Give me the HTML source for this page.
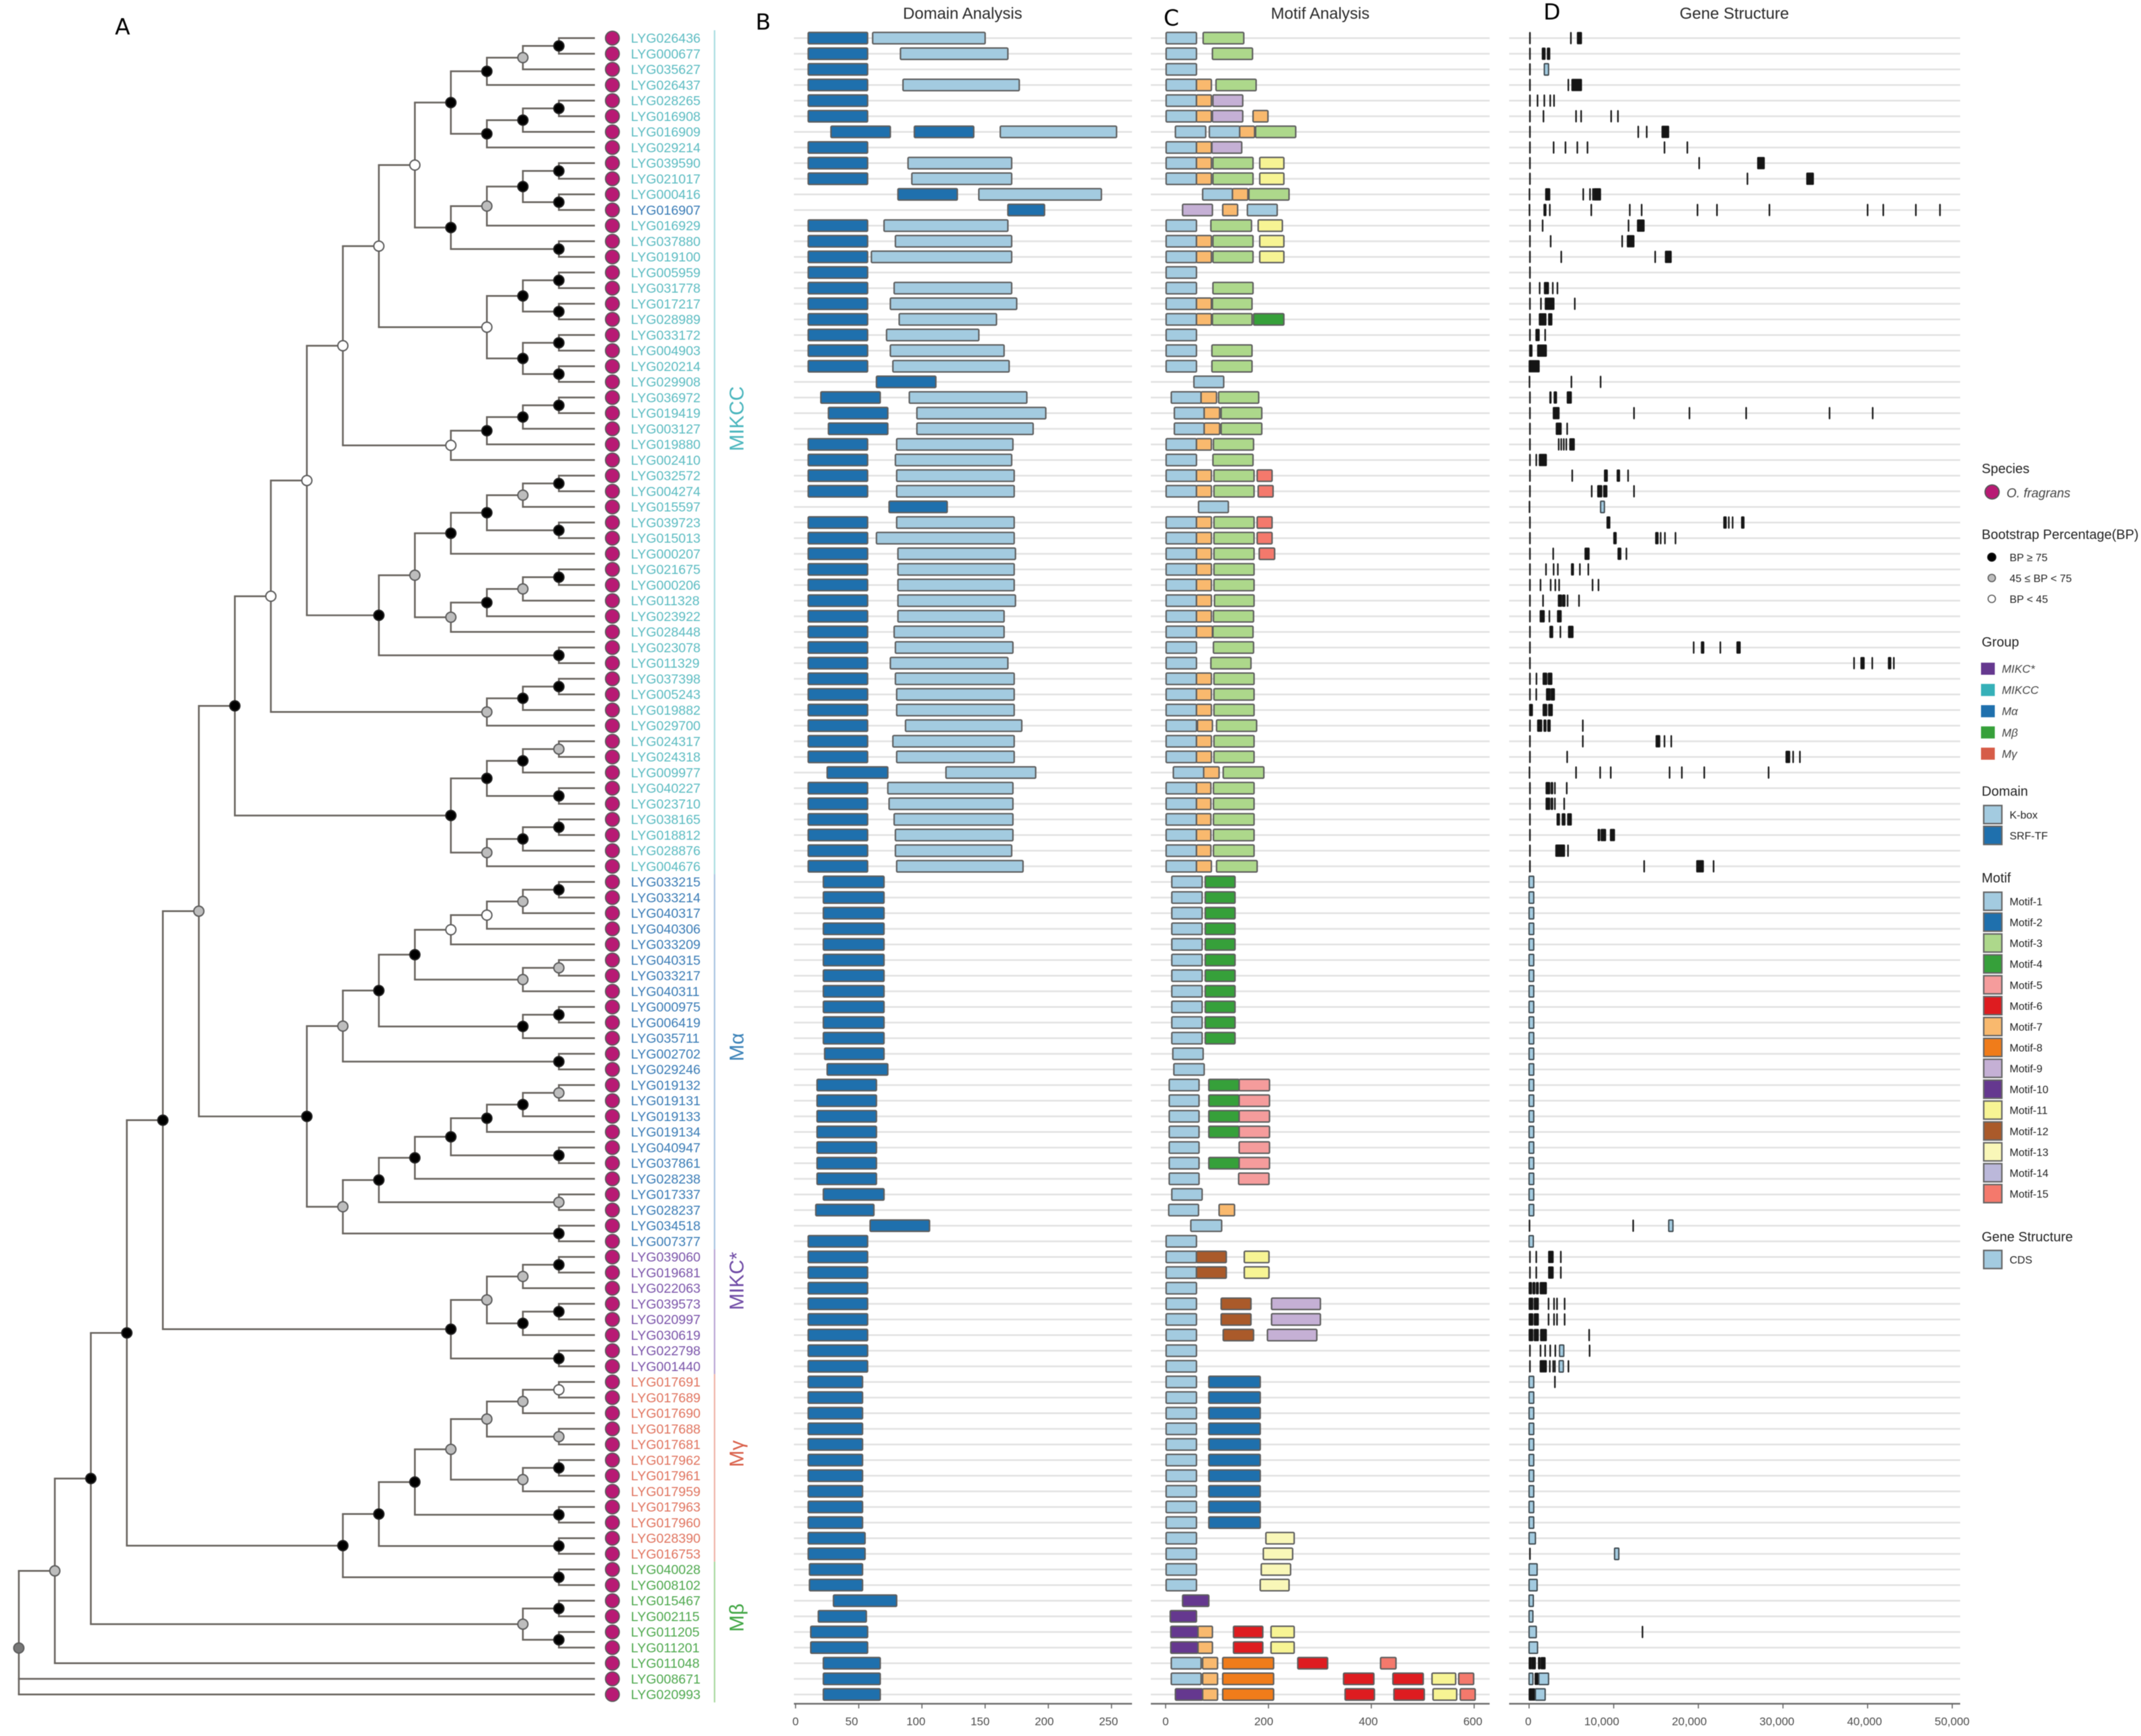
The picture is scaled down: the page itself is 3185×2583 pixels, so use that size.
<!DOCTYPE html>
<html lang="en">
<head>
<meta charset="utf-8">
<title>MADS-box gene family phylogeny, domains, motifs and gene structure</title>
<style>
html,body{margin:0;padding:0;background:#fff;}
svg{display:block;filter:blur(.6px);font-family:"Liberation Sans",sans-serif;}
.ttl{font-size:24px;fill:#2a2a2a;text-anchor:middle;}
.pl{font-family:"DejaVu Sans",sans-serif;font-size:33px;fill:#000;}
.lt{font-size:20px;fill:#222;}
</style>
</head>
<body>
<svg id="fig" xmlns="http://www.w3.org/2000/svg" width="3185" height="2583" viewBox="0 0 3185 2583">
  <rect width="3185" height="2583" fill="#fff"/>
  <text class="pl" x="171" y="51">A</text>
  <text class="pl" x="1124" y="44">B</text>
  <text class="pl" x="1731" y="38">C</text>
  <text class="pl" x="2296" y="29">D</text>
  <text class="ttl" x="1432" y="28">Domain Analysis</text>
  <text class="ttl" x="1964" y="28">Motif Analysis</text>
  <text class="ttl" x="2580" y="28">Gene Structure</text>
  <g id="rows"></g>
  <g id="tree"></g>
  <g id="tips"></g>
  <g id="groups"></g>
  <g id="domains"></g>
  <g id="motifs"></g>
  <g id="genes"></g>
  <g id="axes"></g>
  <g id="legend">
    <text class="lt" x="2948" y="704">Species</text>
    <text class="lt" x="2948" y="802">Bootstrap Percentage(BP)</text>
    <text class="lt" x="2948" y="962">Group</text>
    <text class="lt" x="2948" y="1184">Domain</text>
    <text class="lt" x="2948" y="1313">Motif</text>
    <text class="lt" x="2948" y="1847">Gene Structure</text>
  </g>
</svg>
<script>
// ---------- data ----------
const geneIds = ["LYG026436","LYG000677","LYG035627","LYG026437","LYG028265","LYG016908","LYG016909","LYG029214","LYG039590","LYG021017","LYG000416","LYG016907","LYG016929","LYG037880","LYG019100","LYG005959","LYG031778","LYG017217","LYG028989","LYG033172","LYG004903","LYG020214","LYG029908","LYG036972","LYG019419","LYG003127","LYG019880","LYG002410","LYG032572","LYG004274","LYG015597","LYG039723","LYG015013","LYG000207","LYG021675","LYG000206","LYG011328","LYG023922","LYG028448","LYG023078","LYG011329","LYG037398","LYG005243","LYG019882","LYG029700","LYG024317","LYG024318","LYG009977","LYG040227","LYG023710","LYG038165","LYG018812","LYG028876","LYG004676",
"LYG033215","LYG033214","LYG040317","LYG040306","LYG033209","LYG040315","LYG033217","LYG040311","LYG000975","LYG006419","LYG035711","LYG002702","LYG029246","LYG019132","LYG019131","LYG019133","LYG019134","LYG040947","LYG037861","LYG028238","LYG017337","LYG028237","LYG034518","LYG007377",
"LYG039060","LYG019681","LYG022063","LYG039573","LYG020997","LYG030619","LYG022798","LYG001440",
"LYG017691","LYG017689","LYG017690","LYG017688","LYG017681","LYG017962","LYG017961","LYG017959","LYG017963","LYG017960","LYG028390","LYG016753",
"LYG040028","LYG008102","LYG015467","LYG002115","LYG011205","LYG011201","LYG011048","LYG008671","LYG020993"];
const groupNames = ["MIKCC","M\u03b1","MIKC*","M\u03b3","M\u03b2"];
const groupCounts = [54,24,8,12,9];
// Topology: "." is the next tip in row order; the letter after ")" is bootstrap class (b >=75, g 45-75, w <45, d root)
const cladeA = "((((.,.)b,.)g,.)b,(((.,.)b,.)b,.)b)b";
const cladeB = "((((.,.)b,(.,.)b)b,.)g,(.,.)b)b";
const cladeC = "(((.,.)b,(.,.)b)b,((.,.)b,(.,.)b)b)w";
const cladeD = "((((.,.)b,.)b,.)b,.)w";
const cladeE1 = "(((.,.)b,.)g,(.,.)b)b";
const cladeE2 = "((((.,.)b,.)g,.)b,.)g";
const cladeE = `(((${cladeE1},.)b,${cladeE2})g,(.,.)b)b`;
const cladeF = "(((.,.)b,.)b,.)g";
const cladeH = "((((.,.)g,.)b,(.,.)b)b,(((.,.)b,.)b,.)g)b";
const cladeMIKCC = `((((((${cladeA},${cladeB})w,${cladeC})w,${cladeD})w,${cladeE})w,${cladeF})w,${cladeH})b`;
const cladeM1 = "((((.,.)b,.)g,.)w,.)w";
const cladeM2 = "((.,.)g,.)g";
const cladeM4 = "((.,.)b,.)b";
const cladeM6 = `(((${cladeM1},${cladeM2})b,${cladeM4})b,(.,.)b)g`;
const cladeN1 = "(((.,.)g,.)b,.)b";
const cladeN5 = `((((${cladeN1},(.,.)b)b,.)b,(.,.)g)b,(.,.)b)g`;
const cladeAlpha = `(${cladeM6},${cladeN5})b`;
const cladeStar = "((((.,.)b,.)g,((.,.)b,.)b)g,(.,.)b)b";
const cladeG1 = "((.,.)w,.)g";
const cladeG2 = `(${cladeG1},(.,.)g)g`;
const cladeG3 = "((.,.)b,.)g";
const cladeG4 = `(${cladeG2},${cladeG3})g`;
const cladeGamma = `(((${cladeG4},(.,.)b)b,(.,.)b)b,(.,.)b)b`;
const cladeBeta = "((.,.)b,(.,.)b)g";
const treeNewick = `((((((${cladeMIKCC},${cladeAlpha})g,${cladeStar})b,${cladeGamma})b,${cladeBeta})b,.)g,.,.)d`;
const domainNames = ["SRF-TF","K-box"];
// flat triples per row: domain type, start aa, end aa
const domainSpans = [
[0,10,57,1,61,150],[0,10,57,1,83,168],[0,10,57],[0,10,57,1,85,177],[0,10,57],[0,10,57],[0,28,75,0,94,141,1,162,254],[0,10,57],[0,10,57,1,89,171],[0,10,57,1,92,171],
[0,81,128,1,145,242],[0,168,197],[0,10,57,1,70,168],[0,10,57,1,79,171],[0,10,57,1,60,171],[0,10,57],[0,10,57,1,78,171],[0,10,57,1,75,175],[0,10,57,1,82,159],[0,10,57,1,72,145],
[0,10,57,1,75,165],[0,10,57,1,77,169],[0,64,111],[0,20,67,1,90,183],[0,26,73,1,96,198],[0,26,73,1,96,188],[0,10,57,1,80,172],[0,10,57,1,79,171],[0,10,57,1,80,173],[0,10,57,1,80,173],
[0,74,120],[0,10,57,1,80,173],[0,10,57,1,64,173],[0,10,57,1,81,174],[0,10,57,1,81,173],[0,10,57,1,81,173],[0,10,57,1,81,174],[0,10,57,1,81,165],[0,10,57,1,78,165],[0,10,57,1,79,172],
[0,10,57,1,75,168],[0,10,57,1,79,173],[0,10,57,1,80,173],[0,10,57,1,80,173],[0,10,57,1,87,179],[0,10,57,1,77,173],[0,10,57,1,80,173],[0,25,73,1,119,190],[0,10,57,1,73,172],[0,10,57,1,74,172],
[0,10,57,1,78,172],[0,10,57,1,79,172],[0,10,57,1,79,171],[0,10,57,1,80,180],
[0,22,70],[0,22,70],[0,22,70],[0,22,70],[0,22,70],[0,22,70],[0,22,70],[0,22,70],[0,22,70],[0,22,70],[0,22,70],[0,23,70],[0,25,73],
[0,17,64],[0,17,64],[0,17,64],[0,17,64],[0,17,64],[0,17,64],[0,17,64],[0,22,70],[0,16,62],[0,59,106],[0,10,57],
[0,10,57],[0,10,57],[0,10,57],[0,10,57],[0,10,57],[0,10,57],[0,10,57],[0,10,57],
[0,10,53],[0,10,53],[0,10,53],[0,10,53],[0,10,53],[0,10,53],[0,10,53],[0,10,53],[0,10,53],[0,10,53],[0,10,55],[0,10,55],
[0,11,53],[0,11,53],[0,30,80],[0,18,56],[0,12,57],[0,12,57],[0,22,67],[0,22,67],[0,22,67]];
// flat triples per row: motif number, start aa, end aa
const motifSpans = [
[1,1,60,3,73,152],[1,1,60,3,91,169],[1,1,60],[1,1,60,7,60,89,3,98,176],[1,1,60,7,60,89,9,92,150],[1,1,60,7,60,89,9,91,150,7,170,199],[1,19,78,1,85,144,7,144,173,3,175,253],[1,1,60,7,60,89,9,90,148],[1,1,60,7,60,89,3,92,170,11,183,230],[1,1,60,7,60,89,3,92,170,11,183,230],
[1,72,130,7,130,160,3,162,240],[9,33,91,7,111,140,1,159,217],[1,1,60,3,88,167,11,180,227],[1,1,60,7,60,89,3,92,170,11,183,230],[1,1,60,7,60,89,3,92,170,11,183,230],[1,1,60],[1,1,60,3,92,170],[1,1,60,7,60,89,3,91,168],[1,1,60,7,60,89,3,91,168,4,171,230],[1,1,60],
[1,1,60,3,90,168],[1,1,60,3,90,168],[1,55,113],[1,11,69,7,69,99,3,103,181],[1,17,75,7,75,105,3,108,187],[1,17,75,7,75,105,3,108,187],[1,1,60,7,60,89,3,93,171],[1,1,60,3,92,170],[1,1,60,7,60,89,3,94,172,15,178,207],[1,1,60,7,60,89,3,94,172,15,180,209],
[1,64,122],[1,1,60,7,60,89,3,94,172,15,178,207],[1,1,60,7,60,89,3,94,172,15,178,207],[1,1,60,7,60,89,3,94,172,15,182,212],[1,1,60,7,60,89,3,94,172],[1,1,60,7,60,89,3,94,172],[1,1,60,7,60,89,3,95,172],[1,1,60,7,60,89,3,93,171],[1,1,60,7,60,91,3,92,170],[1,1,60,3,93,171],
[1,1,60,3,88,166],[1,1,60,7,60,89,3,94,172],[1,1,60,7,60,89,3,94,172],[1,1,60,7,60,89,3,94,172],[1,1,60,7,62,91,3,99,177],[1,1,60,7,60,89,3,94,172],[1,1,60,7,60,89,3,94,172],[1,15,74,7,74,104,3,112,191],[1,1,60,7,60,88,3,93,172],[1,1,60,7,60,88,3,93,172],
[1,1,60,7,60,88,3,93,172],[1,1,60,7,60,88,3,93,172],[1,1,60,7,60,88,3,93,172],[1,1,60,7,60,89,3,99,178],
[1,12,71,4,77,135],[1,12,71,4,77,135],[1,12,71,4,77,135],[1,12,71,4,77,135],[1,12,71,4,77,135],[1,12,71,4,77,135],[1,12,71,4,77,135],[1,12,71,4,77,135],[1,12,71,4,77,135],[1,12,71,4,77,135],[1,12,71,4,77,135],[1,14,73],[1,16,75],
[1,7,65,4,84,143,5,143,202],[1,7,65,4,84,143,5,143,202],[1,7,65,4,84,143,5,143,202],[1,7,65,4,84,143,5,143,202],[1,7,65,5,143,202],[1,7,65,4,84,143,5,143,202],[1,7,65,5,142,201],[1,12,71],[1,6,64,7,104,134],[1,49,109],[1,1,60],
[1,1,60,12,60,118,11,153,201],[1,1,60,12,60,118,11,153,201],[1,1,60],[1,1,60,12,108,166,9,206,301],[1,1,60,12,108,166,9,206,301],[1,1,60,12,112,171,9,198,294],[1,1,60],[1,1,60],
[1,1,60,2,84,184],[1,1,60,2,84,184],[1,1,60,2,84,184],[1,1,60,2,84,184],[1,1,60,2,84,184],[1,1,60,2,84,184],[1,1,60,2,84,184],[1,1,60,2,84,184],[1,1,60,2,84,184],[1,1,60,2,84,184],[1,1,60,13,195,250],[1,1,60,13,190,247],
[1,1,60,13,186,243],[1,1,60,13,184,240],[10,33,84],[10,9,60],[10,10,63,7,63,91,6,132,189,11,205,250],[10,10,63,7,63,91,6,132,189,11,205,250],[1,11,69,7,72,101,8,111,210,6,257,315,15,418,448],[1,11,69,7,72,101,8,111,210,6,346,405,6,442,501,11,518,564,15,570,599],[10,19,72,7,72,101,8,111,210,6,349,406,6,444,503,11,520,566,15,573,602]];
// gene structure in kb: number = single thin exon; [s,e] = packed exon cluster; [s,e,1] = resolved CDS block
const small = [0,.55,1];
const exonSpans = [
[.1,4.94,[5.7,6.2]],[.1,[1.55,1.9],[2.15,2.45]],[.1,[1.8,2.3,1]],[.1,4.64,[5.05,6.2]],[.1,1,1.8,2.5,2.95],[.1,1.7,5.55,6.15,9.7,10.5],[.1,12.9,13.9,[15.7,16.5]],[.1,2.9,4.3,5.7,6.9,16,18.7],[.1,20.1,[27,27.8]],[.1,25.8,[32.8,33.6]],
[.05,[1.95,2.45],6.4,7.2,7.55,[7.65,8.45]],[.05,[1.75,2],2.45,7.35,11.9,13.3,19.9,22.2,28.4,40,41.85,45.7,48.55],[.1,1.6,11.75,[12.8,13.6]],[.1,2.55,11,[11.6,12.4]],[.1,3.8,14.9,[16.1,16.8]],[.1],[.1,1.25,[1.8,2.3],2.8,3.35],[.1,1.4,[1.9,2.95],5.4],[.1,[1.2,2],[2.3,2.7]],[.1,[.8,1.2],1.9],
[[.05,.35],[1,2.05]],[[0,1.2]],[.05,5,8.45],[.1,[2.45,2.6],[2.95,3.25],[4.5,5]],[.1,[2.85,3.55],12.4,18.95,25.65,35.5,40.6],[.1,[3.2,3.8],4.5],[.1,3.5,3.8,4.1,4.4,[4.8,5.35]],[.1,.85,[1.2,2.05]],[.1,5.1,[8.9,9.25],[10.4,10.7],11.7],[.1,7.4,[8.1,8.6],[8.8,9.2],12.4],
[.05,[8.45,8.9,1]],[.1,[9.2,9.55],[23,23.3],23.6,24.05,[25.1,25.4]],[.1,[10,10.3],[14.95,15.25],15.55,16.05,17.3],[.1,2.85,[6.6,7.1],[10.5,10.85],11.5],[.1,2,2.9,3.4,[5,5.25],6,7],[.1,1.35,2.55,3.1,3.55,7.5,8.2],[.1,1.65,[3.45,3.85],[3.95,4.25],4.55,5.9],[.1,[1.3,1.8],2.4,[3.35,3.8]],[.1,[2.45,2.8],3.7,[4.65,5.2]],[.1,19.45,[20.35,20.65],22.6,[24.55,24.95]],
[.1,38.4,[39.2,39.6],40.55,[42.45,42.75],43.1],[.1,.87,[1.65,2.1],[2.25,2.7]],[.1,.85,[2.05,2.5],[2.6,3]],[[.05,.4],[1.65,2.1],[2.3,2.75]],[.1,[1,1.5],[1.75,2],[2.2,2.5],6.35],[.1,6.35,[15,15.45],16,16.8],[.1,4.5,[30.35,30.8],31.2,32],[.05,5.55,8.4,9.65,16.6,18.05,20.7,28.3],[.1,[2,2.45],[2.6,2.8],3.05,4.45],[.1,[2,2.45],[2.6,2.8],3.05,4.15],
[.1,[3.3,3.6],[3.9,4.25],[4.55,5]],[.1,[8.15,8.35],[8.5,9.05],[9.6,10.1]],[.1,[3.15,4.2],4.6],[.1,13.6,[19.8,20.6],21.8],
[small],[small],[small],[small],[small],[small],[small],[small],[small],[small],[small],[small],[small],[small],[small],[small],[small],[small],[small],[small],[small],[small],
[.05,12.3,[16.5,17,1]],[[0,.5,1]],
[.1,.85,[2.3,2.85],3.75],[.1,.85,[2.3,2.85],3.75],[[0,.3],[.45,.7],[.85,1.1],[1.3,2.05]],[[0,.45],[.6,1.1],2.3,2.95,3.3,4.2],[[0,.45],[.6,1.1],2.3,2.95,3.3,4.2],[[0,.45],[.6,1.1],[1.35,2.05],7.1],[.1,1.35,1.9,2.5,3.1,[3.6,4.1,1],7.15],[.1,[1.3,2.05],2.45,2.85,3.05,[3.55,4.05,1],4.65],
[small,3.05],[small],[small],[small],[small],[small],[small],[small],[small],[small],[[0,.75,1]],[.1,[10.1,10.6,1]],
[[0,.95,1]],[[0,.95,1]],[[0,.5,1]],[[0,.45,1]],[[0,.85,1],13.4],[[0,1,1]],[[0,.25],[.3,.75],[1.1,1.3],[1.4,1.9]],[[0,.45,1],[.7,1.1],[1.15,2.3,1]],[[0,.7],[.75,1.9,1]]];
const domainTicks = [0,50,100,150,200,250];
const motifTicks = [0,200,400,600];
const geneTicks = [0,10000,20000,30000,40000,50000];
const geneTickLabels = ["0","10,000","20,000","30,000","40,000","50,000"];
const motifLegend = ["Motif-1","Motif-2","Motif-3","Motif-4","Motif-5","Motif-6","Motif-7","Motif-8","Motif-9","Motif-10","Motif-11","Motif-12","Motif-13","Motif-14","Motif-15"];
const bootstrapLegend = ["BP \u2265 75","45 \u2264 BP < 75","BP < 45"];
const groupLegend = ["MIKC*","MIKCC","M\u03b1","M\u03b2","M\u03b3"];

// ---------- styles and scales ----------
const NS = "http://www.w3.org/2000/svg";
const motifColor = {1:"#a3cbe0",2:"#1f70ad",3:"#add88b",4:"#36a03a",5:"#f59c9c",6:"#de1c20",7:"#f9b96e",8:"#f07c1a",9:"#c5b0d5",10:"#65388f",11:"#f7f494",12:"#aa5a2a",13:"#f9f7b8",14:"#bbb8da",15:"#f4796c"};
const domainColor = ["#1f70ad","#a3cbe0"];
const groupTextColor = ["#5cbcc2","#3a7cb6","#7b55aa","#e0745f","#4fa94f"];
const groupBarColor = ["#a9dde0","#a8c4e0","#b9a5d5","#f0b3a6","#a8d8a0"];
const groupLabelColor = ["#49b5bd","#3b82b8","#6f4aa5","#d9604a","#3fa542"];
const groupLabelCenter = [623,1558,1906,2163,2407];
const groupSwatch = ["#65388f","#35b0b8","#1f70ad","#36a03a","#d65c48"];
const supportFill = {b:"#000",g:"#bdbdbd",w:"#fff",d:"#777"};
const rowY = r => 56.7 + 23.25 * r;
const treeX = h => 28 + 53.56 * (16 - h);
const domX = v => 1183.5 + 1.88 * v;
const domLabelX = v => v === 0 ? domX(0) : 1171.5 + 1.91 * v;
const motX = v => 1734 + 0.765 * v;
const motLabelX = v => v === 0 ? motX(0) : 1724.5 + 0.7775 * v;
const geneX = kb => 2274.7 + 12.59 * kb;
const geneLabelX = v => v === 0 ? 2273.5 : 2252.5 + 0.01303 * v;

function mk(tag, attrs, parent, txt) {
  const el = document.createElementNS(NS, tag);
  for (const k in attrs) el.setAttribute(k, attrs[k]);
  if (txt !== undefined) el.textContent = txt;
  parent.appendChild(el);
  return el;
}
const $ = id => document.getElementById(id);

// ---------- row guides ----------
const panelRanges = [[1181,1684],[1712,2216],[2245,2916]];
panelRanges.forEach(range => {
  geneIds.forEach((id, r) => {
    const el = mk("line", {x1:range[0], x2:range[1], y1:rowY(r), y2:rowY(r), stroke:"#e2e2e2", "stroke-width":2.5}, $("rows"));
    
    
  });
});

// ---------- tree ----------
function parseTree(s) {
  let i = 0, tip = 0;
  function node() {
    if (s[i] === ".") { i++; return {tip:tip, y:rowY(tip++), h:0, kids:[]}; }
    i++;
    const kids = [node()];
    while (s[i] === ",") { i++; kids.push(node()); }
    i++;
    const sup = s[i++];
    return {sup:sup, kids:kids, h:1 + Math.max(...kids.map(k => k.h)), y:kids.reduce((a, k) => a + k.y, 0) / kids.length};
  }
  return node();
}
const root = parseTree(treeNewick);
const nodeList = [];
(function walk(n) {
  if (!n.kids.length) return;
  const px = treeX(n.h);
  const ys = n.kids.map(k => k.y);
  const v = mk("line", {x1:px, x2:px, y1:Math.min(...ys), y2:Math.max(...ys), stroke:"#6a6560", "stroke-width":2.6}, $("tree"));
  
  
  n.kids.forEach(k => {
    const h = mk("line", {x1:px - 1.3, x2:k.kids.length ? treeX(k.h) : 885, y1:k.y, y2:k.y, stroke:"#6a6560", "stroke-width":2.6}, $("tree"));
    
    
    walk(k);
  });
  nodeList.push(n);
})(root);
nodeList.forEach(n => {
  const c = mk("circle", {cx:treeX(n.h), cy:n.y, r:7.5, fill:supportFill[n.sup], stroke:n.sup === "b" ? "#222" : "#5c5c5c", "stroke-width":2}, $("tree"));
  
  
});

// ---------- tips, labels, group bars ----------
const groupOfRow = [];
groupCounts.forEach((n, g) => { for (let i = 0; i < n; i++) groupOfRow.push(g); });
geneIds.forEach((id, r) => {
  const c = mk("circle", {cx:911, cy:rowY(r), r:10.3, fill:"#b81a74", stroke:"#5a5a5a", "stroke-width":1.8}, $("tips"));
  
  
  const col = id === "LYG016907" ? groupTextColor[1] : groupTextColor[groupOfRow[r]];
  const t = mk("text", {x:938.5, y:rowY(r) + 7, "font-size":19.7, fill:col}, $("tips"), id);
  
  
});
let startRow = 0;
groupCounts.forEach((n, g) => {
  const y1 = g === 0 ? 45 : rowY(startRow - .5);
  const y2 = g === groupCounts.length - 1 ? 2533 : rowY(startRow + n - .5);
  const b = mk("line", {x1:1063, x2:1063, y1:y1, y2:y2, stroke:groupBarColor[g], "stroke-width":2.2}, $("groups"));
  
  
  const t = mk("text", {transform:"translate(1106," + groupLabelCenter[g] + ") rotate(-90)", "text-anchor":"middle", "font-size":30, fill:groupLabelColor[g]}, $("groups"), groupNames[g]);
  
  
  startRow += n;
});

// ---------- domain and motif bars ----------
domainSpans.forEach((row, r) => {
  for (let i = 0; i < row.length; i += 3) {
    const el = mk("rect", {x:domX(row[i+1]), y:rowY(r) - 8.5, width:domX(row[i+2]) - domX(row[i+1]), height:17, rx:1.5, fill:domainColor[row[i]], stroke:"#5e5e5e", "stroke-width":2.2}, $("domains"));
    
    
  }
});
motifSpans.forEach((row, r) => {
  for (let i = 0; i < row.length; i += 3) {
    const el = mk("rect", {x:motX(row[i+1]), y:rowY(r) - 8.5, width:motX(row[i+2]) - motX(row[i+1]), height:17, rx:1.5, fill:motifColor[row[i]], stroke:"#5e5e5e", "stroke-width":2.2}, $("motifs"));
    
    
  }
});

// ---------- gene structure ----------
exonSpans.forEach((row, r) => {
  row.forEach(e => {
    let s, f, fill, sw = 1.4, stroke = "#1c1c1c";
    if (typeof e === "number") { s = e - .04; f = e + .04; fill = "#222"; }
    else { s = e[0]; f = e[1]; fill = e[2] ? "#a3cbe0" : "#151515"; if (e[2]) { stroke = "#3f4a50"; sw = 2; } }
    const el = mk("rect", {x:geneX(s), y:rowY(r) - 8.5, width:geneX(f) - geneX(s), height:17, rx:1, fill:fill, stroke:stroke, "stroke-width":sw}, $("genes"));
    
    
  });
});

// ---------- axes ----------
function drawAxis(range, ticks, labels, scale, labelScale) {
  const ax = mk("line", {x1:range[0], x2:range[1], y1:2535, y2:2535, stroke:"#6e6e6e", "stroke-width":2.6}, $("axes"));
  
  
  ticks.forEach((v, i) => {
    const t = mk("line", {x1:scale(v), x2:scale(v), y1:2535, y2:2542, stroke:"#666", "stroke-width":1.6}, $("axes"));
    
    
    const l = mk("text", {x:labelScale(v), y:2567, "text-anchor":"middle", "font-size":17, fill:"#4d4d4d"}, $("axes"), labels[i]);
    
    
  });
}
drawAxis(panelRanges[0], domainTicks, domainTicks.map(String), domX, domLabelX);
drawAxis(panelRanges[1], motifTicks, motifTicks.map(String), motX, motLabelX);
drawAxis(panelRanges[2], geneTicks, geneTickLabels, v => geneX(v / 1000), geneLabelX);

// ---------- legend ----------
const lg = $("legend");
function swatch(y, fill, label) {
  const s = mk("rect", {x:2951, y:y - 13.5, width:27, height:27, fill:fill, stroke:"#666", "stroke-width":2.2}, lg);
  
  
  const t = mk("text", {x:2989.5, y:y + 6, "font-size":16, fill:"#222"}, lg, label);
  
  
}
const sp = mk("circle", {cx:2963.5, cy:732, r:10.5, fill:"#b81a74", stroke:"#555", "stroke-width":1.8}, lg);


const spt = mk("text", {x:2985, y:740, "font-size":19, "font-style":"italic", fill:"#444"}, lg, "O. fragrans");


bootstrapLegend.forEach((label, i) => {
  const y = 829 + 31 * i;
  const c = mk("circle", {cx:2963, cy:y, r:i === 0 ? 6 : 5.5, fill:["#000","#bdbdbd","#fff"][i], stroke:i === 0 ? "#111" : "#5c5c5c", "stroke-width":1.6}, lg);
  
  
  const t = mk("text", {x:2989.5, y:y + 6, "font-size":16, fill:"#222"}, lg, label);
  
  
});
groupLegend.forEach((name, i) => {
  const y = 995 + 31.6 * i;
  const s = mk("rect", {x:2947, y:y - 9, width:20.5, height:18, fill:groupSwatch[i]}, lg);
  
  
  const t = mk("text", {x:2978, y:y + 6, "font-size":17, "font-style":"italic", fill:"#444"}, lg, name);
  
  
});
swatch(1212, domainColor[1], "K-box");
swatch(1243, domainColor[0], "SRF-TF");
motifLegend.forEach((name, i) => swatch(1341 + 31.07 * i, motifColor[i + 1], name));
swatch(1874, "#a3cbe0", "CDS");
</script>
</body>
</html>
